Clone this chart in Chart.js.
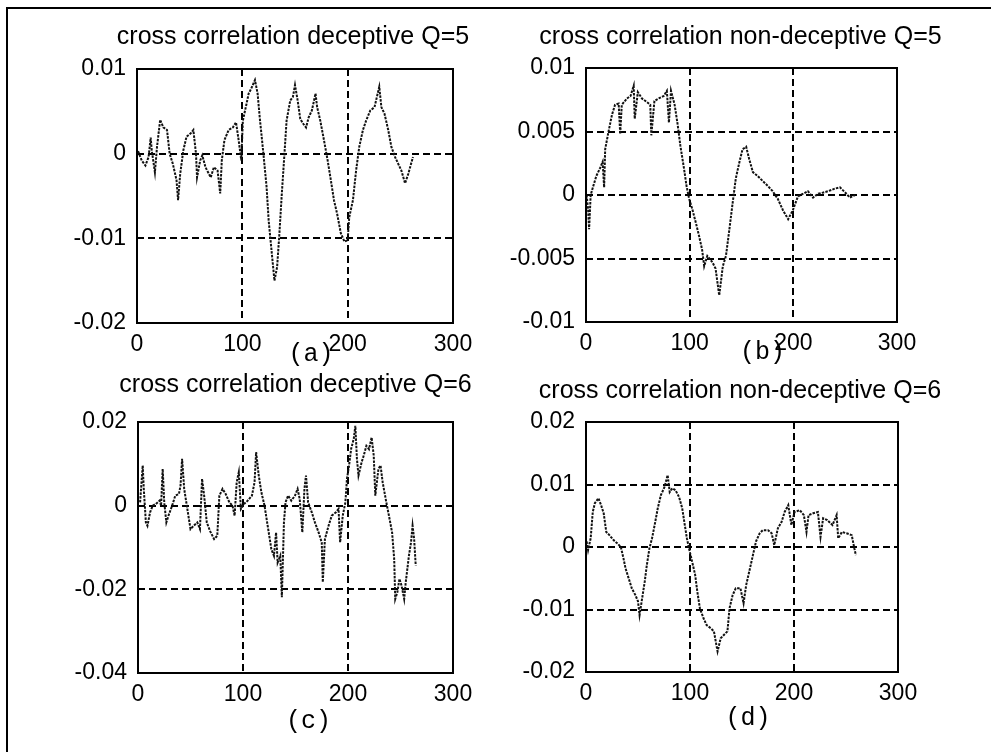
<!DOCTYPE html>
<html>
<head>
<meta charset="utf-8">
<script src="https://cdn.jsdelivr.net/npm/chart.js@4.4.1/dist/chart.umd.min.js"></script>
<style>
  html, body { margin: 0; padding: 0; background: #fff; }
  body { width: 991px; height: 752px; position: relative; overflow: hidden; }
  #frame { position: absolute; left: 6px; top: 7px; width: 990px; height: 750px;
           border-top: 2px solid #000; border-left: 2px solid #000; }
  canvas { position: absolute; }
</style>
</head>
<body>
<div id="frame"></div>
<canvas id="pa" width="480" height="360"></canvas>
<canvas id="pb" width="480" height="360"></canvas>
<canvas id="pc" width="480" height="370"></canvas>
<canvas id="pd" width="480" height="370"></canvas>
<script>
// lag (samples) and cross correlation values
const lagA = [1, 4.5, 8, 11, 13, 14, 17, 19, 22, 25, 28.5, 31, 34, 37.5, 39, 41, 44, 47, 51, 53.5,
    56, 57, 60, 62, 65, 70, 73, 76.5, 79, 80.5, 83, 87, 91, 94, 96.5, 99, 100.5, 104, 106, 108.5,
    112, 114.5, 116.5, 120, 123, 125, 128, 130.5, 133, 135, 137.5, 140, 142, 145.5, 148, 150, 152.5, 155, 158, 160.5,
    163, 166, 169.5, 171, 174, 177.5, 181, 184, 187, 190, 193.5, 197, 200, 201.5, 205, 208, 211, 214.5, 217.5, 221.5,
    225.5, 230, 232, 235, 238.5, 241.5, 245, 248, 251, 254.5, 257.5, 262];
const valA = [0.0003, -0.0008, -0.0014, -0.0004, 0.0019, 0.0004, -0.0022, 0.0008, 0.004, 0.0031,
    0.0028, 0, -0.0012, -0.0031, -0.0055, -0.0024, 0.0004, 0.002, 0.0024, 0.0028,
    0, -0.0028, -0.0008, -0.0002, -0.0016, -0.0028, -0.0016, -0.002, -0.0047, -0.0008,
    0.0016, 0.0028, 0.0031, 0.0037, 0.0016, -0.0008, 0.0039, 0.0059, 0.0071, 0.0077,
    0.0087, 0.0071, 0.0043, 0, -0.0039, -0.0079, -0.0118, -0.015, -0.0134, -0.0098,
    -0.0047, 0, 0.0039, 0.0063, 0.0067, 0.0081, 0.0063, 0.0041, 0.0035, 0.0031,
    0.0043, 0.0051, 0.0071, 0.0055, 0.0039, 0.0016, -0.0008, -0.0031, -0.0055, -0.0071,
    -0.0094, -0.0104, -0.0102, -0.0075, -0.0055, -0.002, 0.0008, 0.0028, 0.0039, 0.0051,
    0.0055, 0.0079, 0.0055, 0.0047, 0.0028, 0.0008, -0.0004, -0.0012, -0.002, -0.0035,
    -0.0024, -0.0004];

const lagB = [0.6, 2, 3, 4.5, 7, 10, 13.5, 16, 17.5, 18.5, 21.5, 25, 28, 31.5, 33, 34.5, 39.5, 43, 46, 47,
    50, 54, 59, 62, 63, 66, 70, 75, 78, 80, 82, 85.5, 88.5, 91, 94.5, 97, 99.5, 102.5, 106, 109,
    112, 114, 117, 122, 125, 128.5, 132, 135, 138, 141.5, 144.5, 148, 151, 154.5, 157.5, 161, 165.5, 170.5, 175.5, 180,
    185, 190, 195, 199.5, 204.5, 209.5, 214, 219, 224, 229, 233.5, 240, 245, 250, 254.5, 259.5];
const valB = [0, -0.0011, -0.0027, 0, 0.0007, 0.0015, 0.0021, 0.0026, 0.0006, 0.0036,
    0.0049, 0.0063, 0.0071, 0.0072, 0.0048, 0.0071, 0.0076, 0.0078, 0.0086, 0.006,
    0.0081, 0.0076, 0.0073, 0.0071, 0.0047, 0.0074, 0.0076, 0.0078, 0.0082, 0.0057,
    0.0082, 0.0071, 0.0055, 0.0039, 0.0021, 0.0007, -0.0003, -0.0011, -0.0022, -0.0032,
    -0.0043, -0.0056, -0.0048, -0.0053, -0.0058, -0.0079, -0.0056, -0.0048, -0.0029, -0.0006,
    0.0013, 0.0026, 0.0036, 0.0038, 0.0028, 0.0018, 0.0015, 0.0011, 0.0007, 0.0003,
    -0.0003, -0.0012, -0.0019, -0.0012, -0.0001, 0.0001, 0.0003, -0.0002, 0.0001, 0.0002,
    0.0003, 0.0005, 0.0006, 0.0002, -0.0002, 0];

const lagC = [2, 4.5, 5.5, 7.5, 9, 11.5, 14, 17, 20.5, 22, 23.5, 25, 27, 29, 32.5, 35.5, 39, 40.5, 42, 44,
    47, 50, 53, 56.5, 59, 61, 63, 65.5, 68.5, 72.5, 75.5, 77.5, 80.5, 83.5, 87, 90, 92, 94, 96, 98,
    101, 104.5, 108.5, 111, 112.5, 115, 117.5, 120.5, 123.5, 127, 129.5, 131.5, 133, 135.5, 137, 139, 140.5, 143, 146, 149.5,
    152, 154, 156.5, 158.5, 160, 162, 165.5, 168.5, 172, 175, 176, 178, 181.5, 184.5, 188.5, 191, 192.5, 195, 197.5, 199,
    201, 203, 205.5, 207, 208.5, 210, 213, 215, 217.5, 220, 222.5, 224.5, 226, 229, 231, 233, 236.5, 239, 242, 244,
    245, 247, 249, 251, 253.5, 255, 258, 260, 261.5, 263, 264.5];
const valC = [0.0008, 0.0096, 0.004, -0.004, -0.0048, -0.0016, 0, 0.0004, 0.0012, 0,
    0.0088, 0.0008, -0.004, -0.0024, 0, 0.0024, 0.0028, 0.0048, 0.0112, 0.004,
    -0.0008, -0.0056, -0.0048, -0.004, -0.0056, 0.0064, 0.0024, -0.004, -0.006, -0.008,
    -0.0072, 0.0024, 0.004, 0.0028, 0.0008, 0, -0.0024, 0.0056, 0.008, -0.0008,
    0.0004, 0.0012, 0.0024, 0.0056, 0.0128, 0.0072, 0.0032, 0, -0.0048, -0.0104,
    -0.012, -0.0064, -0.0136, -0.012, -0.0219, -0.004, 0.0008, 0.0024, 0.0012, 0.0024,
    0.004, 0.0016, -0.0064, 0.004, 0.0072, 0.0008, -0.0016, -0.004, -0.0064, -0.0088,
    -0.0183, -0.008, -0.0048, -0.0024, -0.0016, -0.0008, -0.0088, -0.0024, 0.0008, 0.0064,
    0.0096, 0.0136, 0.016, 0.0191, 0.0112, 0.0072, 0.0104, 0.012, 0.0143, 0.0135,
    0.0163, 0.012, 0.0024, 0.0088, 0.0096, 0.0056, 0.0008, -0.0024, -0.0064, -0.0128,
    -0.0223, -0.0207, -0.0175, -0.0191, -0.0223, -0.0183, -0.012, -0.0088, -0.0048, -0.008,
    -0.0143];

const lagD = [0.6, 2, 4.5, 6.5, 8.5, 12, 14.5, 17, 19.5, 22.5, 26.5, 30, 33.5, 36, 38, 41, 44, 47.5, 50, 51.5,
    54, 56.5, 58.5, 61, 63.5, 66, 69, 72, 75.5, 78.5, 80.5, 83, 86, 89.5, 92.5, 95, 97, 99, 102, 105,
    107, 109.5, 113, 116, 120, 123, 126.5, 129.5, 133, 136, 138, 141, 144, 148.5, 151.5, 154, 157, 160.5, 163.5, 167,
    170, 175, 178.5, 181, 184.5, 188, 191, 194.5, 197.5, 200.5, 205.5, 209.5, 212, 214, 218.5, 223, 225.5, 228, 232, 237,
    241, 242.5, 246, 250.5, 255.5, 258, 259.5];
const valD = [0.0009, -0.0005, 0.0014, 0.0056, 0.007, 0.0078, 0.0067, 0.0054, 0.0024, 0.0019,
    0.0011, 0.0006, 0, -0.0018, -0.0034, -0.005, -0.0066, -0.0077, -0.0087, -0.0109,
    -0.0082, -0.0055, -0.0029, -0.0002, 0.0014, 0.0035, 0.0062, 0.0083, 0.0096, 0.0115,
    0.0088, 0.0094, 0.0091, 0.008, 0.0062, 0.0035, 0.0014, -0.0002, -0.0023, -0.0045,
    -0.0071, -0.0098, -0.0114, -0.0125, -0.013, -0.0135, -0.0167, -0.0146, -0.014, -0.0135,
    -0.0098, -0.0077, -0.0066, -0.0066, -0.009, -0.0061, -0.0039, -0.0013, 0.0009, 0.0022,
    0.0027, 0.0027, 0.0022, 0.0003, 0.003, 0.004, 0.0056, 0.0067, 0.0035, 0.0056,
    0.0059, 0.0051, 0.0024, 0.0051, 0.0054, 0.0056, 0.0016, 0.0046, 0.0043, 0.0035,
    0.0051, 0.0014, 0.0024, 0.0022, 0.0019, -0.0002, -0.0013];

const titles = [
    'cross correlation deceptive Q=5',
    'cross correlation non-deceptive Q=5',
    'cross correlation deceptive Q=6',
    'cross correlation non-deceptive Q=6',
];
const tags = ['(a)', '(b)', '(c)', '(d)'];
const xTicks = [0, 100, 200, 300];
const yRanges = [
    [-0.02, 0.01, 0.01],
    [-0.01, 0.01, 0.005],
    [-0.04, 0.02, 0.02],
    [-0.02, 0.02, 0.01],
];

// box around plot area + title above + (a)-style tag below
const panelDecor = {
    id: 'panelDecor',
    afterDraw(chart, args, opts) {
        const ctx = chart.ctx;
        const a = chart.chartArea;
        const cx = (a.left + a.right) / 2;
        ctx.save();
        ctx.strokeStyle = '#000';
        ctx.lineWidth = 2;
        ctx.strokeRect(a.left, a.top, a.right - a.left, a.bottom - a.top);
        ctx.fillStyle = '#000';
        ctx.textAlign = 'center';
        ctx.textBaseline = 'middle';
        ctx.font = '25px "Liberation Sans"';
        ctx.fillText(opts.title, cx + opts.titleDx, a.top + opts.titleDy);
        ctx.font = '25px "Liberation Mono"';
        ctx.fillText(opts.tag, cx + opts.tagDx, a.bottom + opts.tagDy);
        ctx.restore();
    }
};

const fmt = v => String(Number(v.toFixed(4)));

// canvas rect and wanted plot area (left, top, right, bottom)
const layouts = [
    { id: 'pa', box: [10, 10, 480, 360], area: [137, 69, 453, 323], titleDx: -2, titleDy: -32, tagDx: 16, tagDy: 31 },
    { id: 'pb', box: [495, 10, 480, 360], area: [586, 68, 897, 322], titleDx: -1, titleDy: -31, tagDx: 21, tagDy: 30 },
    { id: 'pc', box: [10, 372, 480, 370], area: [138, 422, 453, 673], titleDx: 0, titleDy: -37, tagDx: 13, tagDy: 48 },
    { id: 'pd', box: [495, 372, 480, 370], area: [586, 422, 898, 672], titleDx: -2, titleDy: -31, tagDx: 6, tagDy: 46 },
];

const lags = [lagA, lagB, lagC, lagD];
const vals = [valA, valB, valC, valD];

layouts.forEach((p, i) => {
    const el = document.getElementById(p.id);
    const [bx, by, bw, bh] = p.box;
    const [l, t, r, b] = p.area;
    el.style.left = bx + 'px';
    el.style.top = by + 'px';
    const xh = 45;
    const yw = l - bx - 4;
    const [ymin, ymax, ystep] = yRanges[i];

    new Chart(el, {
        type: 'line',
        data: {
            datasets: [{
                data: lags[i].map((x, k) => ({ x: x, y: vals[i][k] })),
                borderColor: '#111',
                borderWidth: 2,
                borderDash: [2.5, 1.2],
                pointRadius: 0,
                tension: 0,
                fill: false,
            }]
        },
        options: {
            responsive: false,
            animation: false,
            layout: { padding: { left: 4, top: t - by, right: bx + bw - r, bottom: by + bh - b - xh } },
            plugins: {
                legend: { display: false },
                tooltip: { enabled: false },
                panelDecor: { title: titles[i], tag: tags[i], titleDx: p.titleDx, titleDy: p.titleDy, tagDx: p.tagDx, tagDy: p.tagDy },
            },
            scales: {
                x: {
                    type: 'linear',
                    min: xTicks[0],
                    max: xTicks[xTicks.length - 1],
                    grid: { color: '#000', lineWidth: 2, drawTicks: false },
                    border: { display: false, dash: [7, 4] },
                    ticks: {
                        stepSize: 100, color: '#000', padding: 8, maxRotation: 0,
                        font: { family: 'Liberation Sans', size: 23 },
                    },
                    afterFit: s => { s.height = xh; },
                },
                y: {
                    min: ymin,
                    max: ymax,
                    grid: { color: '#000', lineWidth: 2, drawTicks: false },
                    border: { display: false, dash: [7, 4] },
                    ticks: {
                        stepSize: ystep, color: '#000', padding: 11,
                        font: { family: 'Liberation Sans', size: 23 },
                        callback: v => fmt(v),
                    },
                    afterFit: s => { s.width = yw; },
                }
            }
        },
        plugins: [panelDecor]
    });
});
</script>
</body>
</html>
